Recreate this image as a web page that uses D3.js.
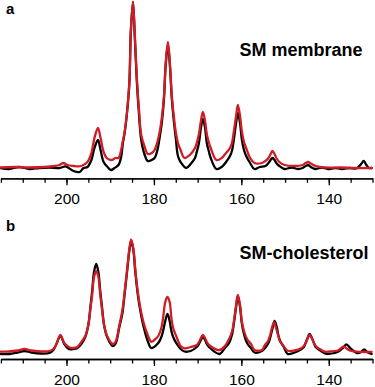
<!DOCTYPE html>
<html>
<head>
<meta charset="utf-8">
<script src="https://cdn.jsdelivr.net/npm/d3@7"></script>
<style>
  body { margin: 0; background: #fff; }
  svg { display: block; font-family: "Liberation Sans", Arial, sans-serif; }
  .axis path, .axis line { stroke: #000; stroke-width: 1.3; }
  .axis text { font-size: 15.5px; fill: #000; }
  .trace { fill: none; stroke-width: 2.3; stroke-linejoin: round; stroke-linecap: round; }
</style>
</head>
<body>
<svg id="chart" width="375" height="387"></svg>
<script>
// chemical shift (ppm) vs. intensity (a.u.)
const majorTicks = [200, 180, 160, 140];
const minorTicks = d3.range(130, 216, 5);

const smBlack = [
  [215.1,0],[213.1,-1],[210.8,1],[208.5,-1],[206.2,0],[203.9,0.5],[201.6,0],[200.2,1.5],
  [198.4,-3],[197.0,-4],[196.1,0],[195.2,1],[194.3,8],[193.6,20],[192.8,28],[192.2,18],
  [191.5,6],[190.6,1],[189.8,-2],[189.0,0],[188.1,3],[187.5,11],[187.1,25],[186.7,35],
  [186.2,53],[185.6,86],[185.3,134],[184.8,166],[184.4,134],[183.9,86],[183.4,53],[182.9,28],
  [182.1,13],[181.4,7],[180.5,8],[179.85,10],[179.2,18],[178.6,33],[178.2,45],[177.7,69],
  [177.3,103],[176.8,123],[176.35,103],[175.9,69],[175.4,45],[175.0,30],[174.5,12],[173.9,6],
  [172.6,0],[171.6,4],[170.6,10],[170.2,16],[169.7,25],[169.25,40],[168.8,49],[168.3,40],
  [167.9,25],[167.4,16],[167.0,10],[165.7,-1],[164.5,1],[163.5,6],[162.6,12],[162.1,18],
  [161.7,29],[161.2,45],[160.8,55],[160.3,45],[159.9,29],[159.4,18],[158.9,12],[158.0,5],
  [157.0,-1],[155.8,1],[154.5,2],[153.8,5],[153.3,8],[152.9,10],[152.4,8],[152.0,5],
  [151.3,2],[150.1,-1],[148.5,0.5],[147.1,-1],[146.0,0],[145.3,2],[144.7,3],[144.1,1],
  [143.0,-1],[141.6,0.5],[140.2,-1],[138.6,0],[137.0,-1],[135.2,0],[133.8,-0.5],[133.2,1],
  [132.6,4],[132.0,7],[131.4,3],[130.8,0],[130.2,0]
];

const smRed = [
  [215.1,0.5],[211.9,1],[208.5,0.5],[205.0,1],[202.7,2],[201.6,3],[200.7,5],[199.8,3],
  [198.4,2],[196.6,2],[195.2,6],[194.3,15],[193.6,30],[192.8,40],[192.2,30],[191.5,16],
  [190.8,10],[189.7,8],[188.8,10],[188.1,10],[187.5,18],[187.1,27],[186.7,36],[186.2,54],
  [185.6,87],[185.3,135],[184.8,166],[184.4,136],[183.9,90],[183.4,58],[182.9,33],[182.1,21],
  [181.4,14],[180.5,15],[179.85,18],[179.2,26],[178.6,38],[178.2,50],[177.7,72],[177.3,105],
  [176.8,126],[176.35,105],[175.9,72],[175.4,50],[175.0,36],[174.5,25],[173.9,18],[173.0,10],
  [171.8,13],[170.6,20],[170.2,25],[169.7,34],[169.25,47],[168.8,56],[168.3,47],[167.9,34],
  [167.4,25],[167.0,20],[165.7,8],[164.5,10],[163.5,15],[162.6,20],[162.1,26],[161.7,37],
  [161.2,52],[160.8,63],[160.3,52],[159.9,37],[159.4,26],[158.9,20],[158.0,10],[157.0,5],
  [155.3,5],[154.5,7],[153.8,10],[153.3,14],[152.9,17],[152.4,14],[152.0,10],[151.3,6],
  [150.1,3],[147.8,2],[146.0,3],[145.3,5],[144.7,6],[144.1,4.5],[143.0,2],[140.9,0.5],
  [137.5,0.5],[134.0,0],[130.2,0]
];

const cholBlack = [
  [215.1,0],[213.1,0],[211.2,1.5],[209.6,3],[208.0,1.5],[205.7,0.5],[203.9,1],[203.0,4],
  [202.3,10],[201.4,18],[200.5,10],[199.5,5],[198.4,5],[197.5,6],[196.6,10],[195.7,17],
  [195.0,29],[194.5,48],[194.1,64],[193.7,82],[193.2,90],[192.7,82],[192.3,64],[191.9,48],
  [191.4,29],[190.7,17],[189.4,8],[188.8,10],[187.9,27],[187.2,41],[186.7,60],[186.1,84],
  [185.6,104],[185.2,113],[184.7,104],[184.3,84],[183.7,60],[183.1,43],[182.4,28],[181.5,14],
  [180.6,6],[179.0,11],[178.3,17],[177.9,23],[177.4,33],[176.9,40],[176.4,33],[176.0,23],
  [175.6,17],[174.9,11],[173.9,5],[173.0,2.5],[171.6,3],[170.2,7],[169.7,10],[169.25,14],
  [168.8,17],[168.3,14],[167.9,10],[167.4,7],[165.0,0],[163.75,6],[162.8,11],[162.1,20],
  [161.7,31],[161.2,47],[160.8,58],[160.3,47],[159.9,31],[159.4,20],[158.7,11],[157.8,6],
  [157.0,1.5],[155.3,3],[154.4,7],[153.7,12],[153.3,18],[152.8,27],[152.4,33],[151.9,27],
  [151.5,18],[151.0,12],[150.3,7],[149.4,0],[147.8,1.5],[146.4,4.5],[145.7,7],[145.3,11],
  [144.8,16.5],[144.4,20],[143.9,16.5],[143.4,11],[143.0,7],[142.3,4.5],[140.9,0.7],[138.6,1],
  [137.6,3],[136.9,5.5],[136.4,8],[136.0,9.7],[135.5,8],[135.0,5.5],[134.3,3],[133.6,1],
  [132.6,2],[131.9,4.7],[131.2,2],[130.2,0]
];

const cholRed = [
  [215.1,2.3],[213.1,2.5],[211.2,3.5],[209.6,5],[208.0,3.5],[205.7,2.5],[203.9,3],[203.0,5],
  [202.3,10],[201.4,19],[200.5,11],[199.5,7],[198.4,6],[197.5,7],[196.6,12],[195.7,18],
  [195.0,29],[194.5,46],[194.1,60],[193.7,77],[193.2,83],[192.7,77],[192.3,60],[191.9,46],
  [191.4,29],[190.7,18],[189.4,10],[188.8,12],[187.9,29],[187.2,44],[186.7,62],[186.1,86],
  [185.6,105.5],[185.2,114.7],[184.7,105.5],[184.3,87],[183.7,62.5],[183.1,46],[182.4,32],[181.5,20],
  [180.6,12.3],[179.9,14],[179.0,18],[178.3,26],[177.9,36],[177.4,52],[176.9,57],[176.4,52],
  [176.0,36],[175.6,26],[174.9,18],[173.9,8],[173.0,5.7],[171.6,7],[170.2,9],[169.7,12],
  [169.25,16],[168.8,19],[168.3,16],[167.9,12],[167.4,9],[165.0,4],[163.75,8],[162.8,15],
  [162.1,23],[161.7,33],[161.2,49],[160.8,59],[160.3,49],[159.9,33],[159.4,23],[158.7,15],
  [157.8,10],[157.0,4],[155.3,4],[154.6,9],[153.9,13],[153.4,19],[153.0,26.5],[152.5,31.7],
  [152.1,26.5],[151.6,19],[151.2,13],[150.5,9],[149.4,3.3],[147.8,3.5],[146.4,5.5],[145.7,8],
  [145.3,11],[144.8,16],[144.4,19],[143.9,16],[143.4,11],[143.0,8],[142.3,5.5],[140.9,2.3],
  [139.8,2.5],[137.9,3.5],[137.3,5.5],[136.6,7.3],[135.9,5.5],[135.2,3.5],[133.6,2.3],[130.2,2]
];

const panels = [
  {label: 'a', title: 'SM membrane', black: smBlack, red: smRed,
   axisY: 178.3, yDomain: [0, 166], yRange: [168, 2], labelY: 14, titleX: 362.5, titleY: 56},
  {label: 'b', title: 'SM-cholesterol', black: cholBlack, red: cholRed,
   axisY: 359, yDomain: [0, 115], yRange: [354, 239], labelY: 231, titleX: 368.5, titleY: 258.5}
];

const svg = d3.select('#chart');
const x = d3.scaleLinear().domain([215, 130]).range([0.9, 372.5]);

panels.forEach(p => {
  const y = d3.scaleLinear().domain(p.yDomain).range(p.yRange);
  const line = d3.line()
    .x(d => x(d[0]))
    .y(d => y(d[1]))
    .curve(d3.curveCatmullRom.alpha(0.5));

  svg.append('path').datum(p.black)
    .attr('class', 'trace').attr('stroke', '#000').attr('d', line);
  svg.append('path').datum(p.red)
    .attr('class', 'trace').attr('stroke', '#d01c24').attr('d', line);

  // minor ticks every 5 ppm
  svg.append('g').attr('class', 'axis')
    .attr('transform', `translate(0,${p.axisY})`)
    .call(d3.axisBottom(x).tickValues(minorTicks).tickSize(4.5).tickSizeOuter(0).tickFormat(''));
  // labelled ticks
  svg.append('g').attr('class', 'axis')
    .attr('transform', `translate(0,${p.axisY})`)
    .call(d3.axisBottom(x).tickValues(majorTicks).tickSize(7).tickSizeOuter(0).tickPadding(7.5))
    .call(g => g.selectAll('text').attr('font-family', null));

  svg.append('text')
    .attr('x', 6).attr('y', p.labelY)
    .attr('font-size', 15).attr('font-weight', 'bold')
    .text(p.label);

  svg.append('text')
    .attr('x', p.titleX).attr('y', p.titleY)
    .attr('text-anchor', 'end')
    .attr('font-size', 18).attr('font-weight', 'bold')
    .text(p.title);
});
</script>
</body>
</html>
